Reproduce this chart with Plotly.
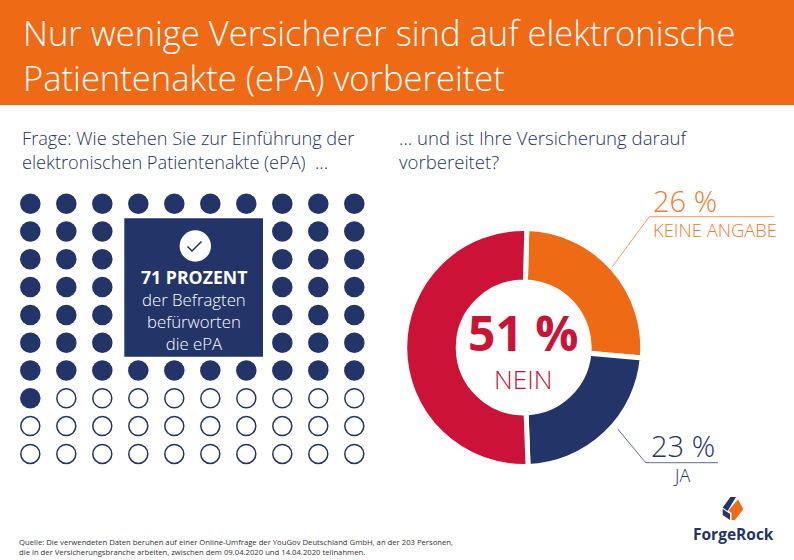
import plotly.graph_objects as go

W, H = 794, 560

# Data
answer_labels = ["KEINE ANGABE", "JA", "NEIN"]
answer_values = [26, 23, 51]
favor_percent = [71]
grid_columns = list(range(10))
grid_rows = list(range(10))

ORANGE = "#EE6A14"
NAVY = "#233468"
RED = "#CC1236"
FONT = "Open Sans"


def px(x):
    return x / W


def py(y):
    return 1 - y / H


dot_x = [c for r in grid_rows for c in grid_columns]
dot_y = [r for r in grid_rows for c in grid_columns]
n = favor_percent[0]

fig = go.Figure()
fig.add_trace(go.Scatter(
    x=dot_x[:n], y=dot_y[:n], mode="markers", xaxis="x", yaxis="y", hoverinfo="skip",
    marker=dict(symbol="circle", size=20.5, color=NAVY, line=dict(width=0)), showlegend=False))
fig.add_trace(go.Scatter(
    x=dot_x[n:], y=dot_y[n:], mode="markers", xaxis="x", yaxis="y", hoverinfo="skip",
    marker=dict(symbol="circle", size=19, color="white", line=dict(width=1.5, color=NAVY)), showlegend=False))

cx, cy, R = 523.7, 347.5, 119
fig.add_trace(go.Pie(
    labels=answer_labels, values=answer_values, sort=False, direction="clockwise", rotation=1.5,
    hole=0.55, textinfo="none", hoverinfo="skip", showlegend=False,
    marker=dict(colors=[ORANGE, NAVY, RED], line=dict(color="white", width=5)),
    domain=dict(x=[px(cx - R), px(cx + R)], y=[py(cy + R), py(cy - R)])))


def rect(x0, y0, x1, y1, color):
    return dict(type="rect", xref="paper", yref="paper", x0=px(x0), x1=px(x1), y0=py(y1), y1=py(y0),
                fillcolor=color, line=dict(width=0), layer="above")


def path(points, color=None, line=None, width=1, close=False):
    d = "M " + " L ".join(f"{px(a):.5f},{py(b):.5f}" for a, b in points) + (" Z" if close else "")
    return dict(type="path", xref="paper", yref="paper", path=d, layer="above",
                fillcolor=color if color else "rgba(0,0,0,0)",
                line=dict(width=width if line else 0, color=line if line else "rgba(0,0,0,0)"))


shapes = [
    rect(0, 0, W, 105, ORANGE),
    rect(124.3, 218.3, 263, 356.7, NAVY),
    dict(type="circle", xref="paper", yref="paper", x0=px(179.6), x1=px(211), y0=py(261.7), y1=py(230.3),
         fillcolor="white", line=dict(width=0), layer="above"),
    path([(187.5, 246.5), (192, 251), (201.5, 241.5)], line=NAVY, width=1.5),
    path([(612.3, 266.7), (649.3, 216.7), (774, 216.7)], line="#F39A5F", width=1),
    path([(617.7, 429), (645.7, 462.7), (718, 462.7)], line="#5E6B94", width=1),
    # logo mark
    path([(730.5, 497), (736, 497), (727.5, 511), (722.7, 507.5)], color=NAVY, close=True),
    path([(722.7, 509), (730, 514), (730, 520), (722.7, 515)], color=NAVY, close=True),
    path([(738, 499.5), (743.3, 509), (735, 520), (731.5, 520), (731.5, 513), (728.5, 510.5)], color=ORANGE, close=True),
]


def text(x, y, s, size, color, anchor="left", weight=300, family=FONT):
    return dict(xref="paper", yref="paper", x=px(x), y=py(y), text=s, showarrow=False,
                xanchor=anchor, yanchor="middle", align=anchor, borderpad=0,
                font=dict(family=family, size=size, color=color, weight=weight))


annotations = [
    text(21.5, 55, "Nur wenige Versicherer sind auf elektronische<br>Patientenakte (ePA) vorbereitet", 34.55, "white"),
    text(21, 149.5, "Frage: Wie stehen Sie zur Einführung der<br>elektronischen Patientenakte (ePA)  ...", 18.2, NAVY),
    text(398, 149.5, "... und ist Ihre Versicherung darauf<br>vorbereitet?", 18.6, NAVY),
    text(193.5, 276.5, "71 PROZENT", 17.7, "white", "center", 700),
    text(193.5, 321.5, "der Befragten<br>befürworten<br>die ePA", 16.8, "white", "center"),
    text(523.3, 348,
         '<span style="font-size:48px;font-weight:700">51 %</span><br>'
         '<span style="font-size:26px">NEIN</span>', 29, RED, "center"),
    text(652, 200.5, "26 %", 29, "#EF7B2E"),
    text(652, 229.5, "KEINE ANGABE", 18.4, "#EF7B2E"),
    text(650, 446, "23 %", 29, NAVY),
    text(681.5, 475, "JA", 18, NAVY, "center"),
    text(18, 546.5, "Quelle: Die verwendeten Daten beruhen auf einer Online-Umfrage der YouGov Deutschland GmbH, an der 203 Personen,<br>"
                  "die in der Versicherungsbranche arbeiten, zwischen dem 09.04.2020 und 14.04.2020 teilnahmen.", 7.7, "#333333", weight=400),
    text(733, 534, "ForgeRock", 15.5, NAVY, "center", 700),
]

fig.update_layout(
    width=W, height=H, autosize=False,
    margin=dict(l=0, r=0, t=0, b=0),
    paper_bgcolor="white", plot_bgcolor="rgba(0,0,0,0)",
    xaxis=dict(domain=[px(12.3), px(372.3)], range=[-0.5, 9.5], visible=False, fixedrange=True),
    yaxis=dict(domain=[py(467.8), py(189.8)], range=[9.5, -0.5], visible=False, fixedrange=True),
    shapes=shapes, annotations=annotations,
)
fig.write_html("out.html", config=dict(displayModeBar=False),
               post_script="document.body.style.margin='0';document.documentElement.style.overflow='hidden';")
